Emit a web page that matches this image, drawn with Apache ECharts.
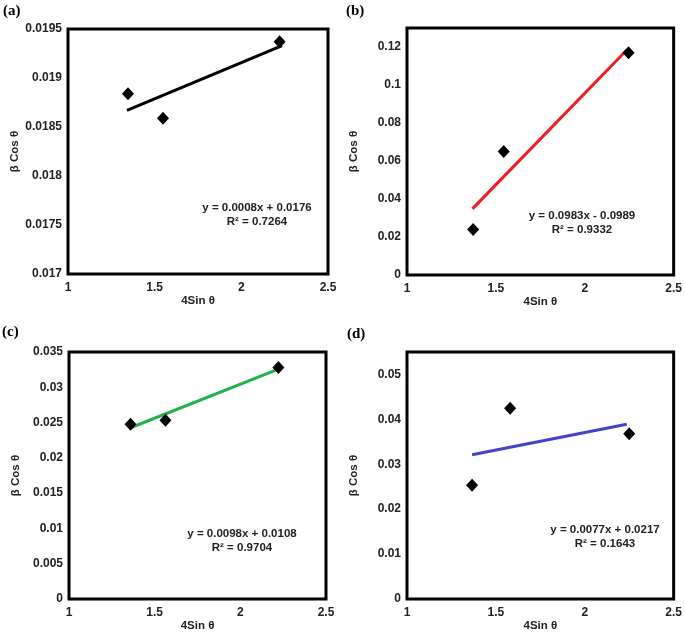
<!DOCTYPE html>
<html>
<head>
<meta charset="utf-8">
<script src="https://cdn.jsdelivr.net/npm/echarts@6/dist/echarts.min.js"></script>
<style>html,body{margin:0;padding:0;background:#fff}#c{width:685px;height:640px}</style>
</head>
<body>
<div id="c"></div>
<script>
// ---- data ----
const xTicks = [1, 1.5, 2, 2.5];

const aX = [1.346, 1.548, 2.221];
const aY = [0.01884, 0.01859, 0.01937];
const aTrendX = [1.34, 2.235];
const aTrendY = [0.01867, 0.01933];

const bX = [1.372, 1.544, 2.246];
const bY = [0.024, 0.065, 0.117];
const bTrendX = [1.368, 2.235];
const bTrendY = [0.0348, 0.1183];

const cX = [1.359, 1.563, 2.222];
const cY = [0.02477, 0.02533, 0.0328];
const cTrendX = [1.363, 2.222];
const cTrendY = [0.0243, 0.03257];

const dX = [1.366, 1.58, 2.25];
const dY = [0.02533, 0.04247, 0.03678];
const dTrendX = [1.366, 2.236];
const dTrendY = [0.0321, 0.0389];

const panelLabels = ['(a)', '(b)', '(c)', '(d)'];
const equations = [
  'y = 0.0008x + 0.0176\nR² = 0.7264',
  'y = 0.0983x - 0.0989\nR² = 0.9332',
  'y = 0.0098x + 0.0108\nR² = 0.9704',
  'y = 0.0077x + 0.0217\nR² = 0.1643'
];
const yAxisRanges = [
  {min: 0.017, max: 0.0195, interval: 0.0005},
  {min: 0, max: 0.13, interval: 0.02},
  {min: 0, max: 0.035, interval: 0.005},
  {min: 0, max: 0.055, interval: 0.01}
];
const trendColors = ['#000000', '#ee1c24', '#22b14c', '#4146c8'];
const xName = '4Sin θ';
const yName = 'β Cos θ';

// ---- layout ----
const grids = [
  {left: 68, top: 29, width: 260, height: 245},
  {left: 407, top: 28, width: 269, height: 247},
  {left: 69, top: 352, width: 257, height: 247},
  {left: 407, top: 352, width: 269, height: 247}
];
const labelPos = [[3, 4], [346, 4], [2, 325], [347, 327]];
const eqPos = [[257, 201], [582, 209], [242, 527], [605, 523]];

const sets = [
  [aX, aY, aTrendX, aTrendY],
  [bX, bY, bTrendX, bTrendY],
  [cX, cY, cTrendX, cTrendY],
  [dX, dY, dTrendX, dTrendY]
];

const txt = '#222';
const font = 'Liberation Sans, Arial, sans-serif';

const option = {
  backgroundColor: '#fff',
  animation: false,
  grid: grids.map(g => Object.assign({show: true, borderColor: '#000', borderWidth: 3, backgroundColor: 'transparent'}, g)),
  xAxis: grids.map((g, i) => ({
    type: 'value', gridIndex: i, min: xTicks[0], max: xTicks[xTicks.length - 1], interval: 0.5,
    axisLine: {show: false}, axisTick: {show: false}, splitLine: {show: false},
    axisLabel: {color: txt, fontSize: 12, fontWeight: 'bold', fontFamily: font, margin: 8},
    name: xName, nameLocation: 'middle', nameGap: 21,
    nameTextStyle: {color: txt, fontSize: 11.5, fontWeight: 'bold', fontFamily: font}
  })),
  yAxis: grids.map((g, i) => ({
    type: 'value', gridIndex: i, min: yAxisRanges[i].min, max: yAxisRanges[i].max, interval: yAxisRanges[i].interval,
    axisLine: {show: false}, axisTick: {show: false}, splitLine: {show: false},
    axisLabel: {color: txt, fontSize: 12, fontWeight: 'bold', fontFamily: font, margin: 6, showMaxLabel: i === 0 || i === 2},
    name: yName, nameLocation: 'middle', nameRotate: 90, nameGap: 47,
    nameTextStyle: {color: txt, fontSize: 11.5, fontWeight: 'bold', fontFamily: font}
  })),
  series: [],
  graphic: []
};

sets.forEach((s, i) => {
  const [xs, ys, tx, ty] = s;
  option.series.push({
    type: 'line', xAxisIndex: i, yAxisIndex: i,
    data: tx.map((x, k) => [x, ty[k]]),
    showSymbol: false, symbol: 'none',
    lineStyle: {color: trendColors[i], width: 3}, z: 2
  });
  option.series.push({
    type: 'scatter', xAxisIndex: i, yAxisIndex: i,
    data: xs.map((x, k) => [x, ys[k]]),
    symbol: 'diamond', symbolSize: [12, 13],
    itemStyle: {color: '#000', opacity: 1}, z: 3
  });
  option.graphic.push({
    type: 'text', left: labelPos[i][0], top: labelPos[i][1],
    style: {text: panelLabels[i], font: 'bold 15px "Liberation Serif", "Times New Roman", serif', fill: '#000'}
  });
  option.graphic.push({
    type: 'text', x: eqPos[i][0], y: eqPos[i][1],
    style: {text: equations[i], font: 'bold 11.5px ' + font, fill: txt, textAlign: 'center', lineHeight: 14}
  });
});

echarts.init(document.getElementById('c')).setOption(option);
</script>
</body>
</html>
